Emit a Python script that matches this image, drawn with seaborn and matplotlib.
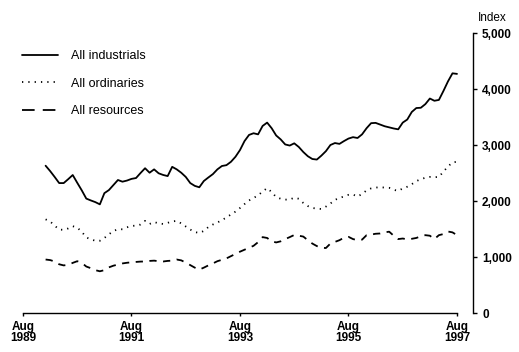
import numpy as np
import pandas as pd
import matplotlib
matplotlib.use("Agg")
import matplotlib.pyplot as plt
from matplotlib.lines import Line2D
import seaborn as sns

# Monthly share price indexes, January 1990 to August 1997
dates = pd.date_range("1990-01-01", "1997-08-01", freq="MS")

industrials = [
    2630, 2535, 2430, 2320, 2320, 2390, 2464, 2325, 2190, 2043, 2010, 1980,
    1940, 2140, 2195, 2285, 2375, 2345, 2365, 2395, 2410, 2500, 2585, 2505,
    2565, 2495, 2465, 2445, 2610, 2565, 2505, 2430, 2320, 2270, 2245, 2357,
    2420, 2480, 2565, 2625, 2640, 2700, 2790, 2910, 3070, 3180, 3210, 3190,
    3340, 3400, 3300, 3170, 3100, 3010, 2990, 3030, 2965, 2875, 2800, 2750,
    2740, 2810, 2890, 3000, 3035, 3020, 3070, 3115, 3140, 3125, 3190, 3300,
    3390, 3395, 3365, 3335, 3315, 3295, 3280, 3400, 3455, 3590, 3660, 3665,
    3730, 3830, 3790, 3805, 3965, 4135, 4280, 4270,
]
ordinaries = [
    1672, 1635, 1560, 1490, 1485, 1510, 1550, 1525, 1450, 1350, 1315, 1290,
    1290, 1340, 1405, 1465, 1495, 1495, 1530, 1555, 1560, 1580, 1645, 1590,
    1625, 1600, 1590, 1610, 1635, 1645, 1600, 1545, 1490, 1445, 1430, 1465,
    1535, 1580, 1615, 1660, 1705, 1760, 1810, 1875, 1945, 2010, 2055, 2100,
    2170, 2230, 2160, 2070, 2040, 2025, 2025, 2060, 2040, 1965, 1910, 1875,
    1865, 1857, 1900, 1955, 2020, 2055, 2080, 2110, 2115, 2080, 2125, 2190,
    2225, 2240, 2245, 2240, 2235, 2200, 2180, 2225, 2255, 2300, 2355, 2390,
    2415, 2430, 2425, 2430, 2525, 2615, 2690, 2700,
]
resources = [
    955, 945, 920, 870, 850, 860, 895, 925, 895, 830, 800, 765,
    745, 765, 815, 845, 865, 885, 897, 905, 912, 918, 920, 930,
    935, 925, 920, 930, 935, 955, 940, 900, 855, 810, 775, 810,
    850, 885, 925, 950, 975, 1015, 1055, 1095, 1130, 1165, 1200, 1265,
    1355, 1340, 1280, 1260, 1280, 1320, 1355, 1393, 1380, 1365, 1300, 1240,
    1195, 1165, 1160, 1240, 1270, 1300, 1345, 1360, 1320, 1300, 1310, 1390,
    1400, 1415, 1420, 1440, 1452, 1380, 1320, 1330, 1315, 1325, 1340, 1370,
    1390, 1380, 1320, 1390, 1410, 1455, 1440, 1390,
]

series_names = ["All industrials", "All ordinaries", "All resources"]
x_tick_months = [0, 24, 48, 72, 96]
x_tick_labels = ["Aug\n1989", "Aug\n1991", "Aug\n1993", "Aug\n1995", "Aug\n1997"]
y_ticks = [0, 1000, 2000, 3000, 4000, 5000]

# months counted from August 1989
months = (dates.year - 1989) * 12 + dates.month - 8

df = pd.DataFrame({
    "month": months,
    series_names[0]: industrials,
    series_names[1]: ordinaries,
    series_names[2]: resources,
}).melt(id_vars="month", var_name="series", value_name="index")

sns.set_style("ticks")
plt.rcParams["font.family"] = ["Liberation Sans", "DejaVu Sans"]
plt.rcParams["text.color"] = "black"

fig = plt.figure(figsize=(5.19, 3.52), dpi=100)
ax = fig.add_axes([23 / 519, 39 / 352, 450 / 519, 280 / 352])

line_dashes = {
    series_names[0]: "",
    series_names[1]: (0.7, 2.8),
    series_names[2]: (4.0, 3.6),
}
sns.lineplot(
    data=df, x="month", y="index", hue="series", style="series",
    palette=["black"] * 3, dashes=line_dashes, linewidth=1.3,
    ax=ax, legend=False,
)

ax.set_xlim(0, 99.54)
ax.set_ylim(0, 5000)
ax.set_xlabel("")
ax.set_ylabel("")

# axes: right-hand value scale, time scale along the bottom
for side in ("left", "top"):
    ax.spines[side].set_visible(False)
ax.spines["right"].set_visible(True)
ax.spines["bottom"].set_visible(True)
ax.spines["right"].set_bounds(0, 5000)
ax.spines["bottom"].set_bounds(0, 96)
for side in ("right", "bottom"):
    ax.spines[side].set_linewidth(1.0)
    ax.spines[side].set_color("black")

ax.yaxis.tick_right()
ax.set_yticks(y_ticks)
ax.set_yticklabels([f"{v:,}" for v in y_ticks])
ax.tick_params(axis="y", which="major", direction="out", length=3, width=1.0,
               pad=3.5, labelsize=8.5, colors="black", right=True, left=False)

ax.set_xticks(x_tick_months)
ax.set_xticklabels(x_tick_labels, linespacing=0.95)
ax.set_xticks([0, 96], minor=True)
ax.tick_params(axis="x", which="major", direction="out", length=2.5, width=1.0,
               pad=3.0, labelsize=8.5, colors="black")
ax.tick_params(axis="x", which="minor", direction="out", length=4, width=1.0,
               colors="black")
for lab in ax.get_xticklabels() + ax.get_yticklabels():
    lab.set_fontweight("bold")

fig.text(478 / 519, 1 - 18 / 352, "Index", ha="left", va="center", fontsize=8.5)

legend_handles = [
    Line2D([], [], color="black", linewidth=1.3, linestyle="-"),
    Line2D([], [], color="black", linewidth=1.3, linestyle=(0, (0.7, 2.8))),
    Line2D([], [], color="black", linewidth=1.3, linestyle=(0, (7.0, 4.5))),
]
ax.legend(
    legend_handles, series_names, loc="upper left",
    bbox_to_anchor=(22 / 519, 1 - 50 / 352), bbox_transform=fig.transFigure,
    frameon=False, fontsize=9, handlelength=2.9, handletextpad=1.0,
    labelspacing=1.26, borderpad=0, borderaxespad=0,
)

fig.savefig("out.png", dpi=100, facecolor="white")
